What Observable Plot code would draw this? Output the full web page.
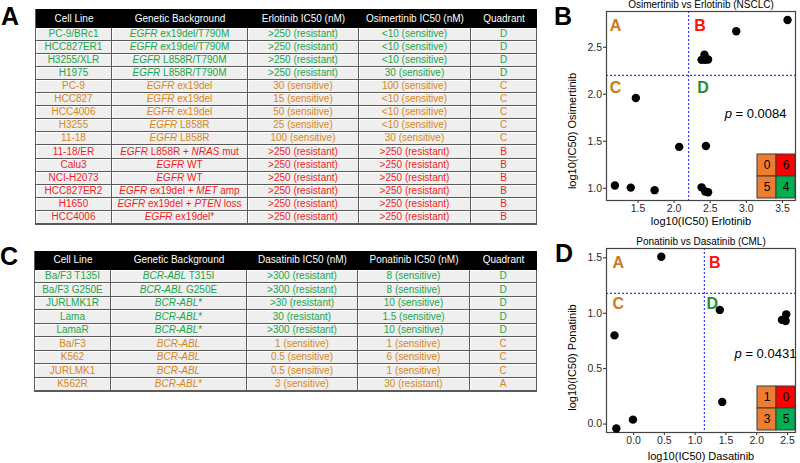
<!DOCTYPE html>
<html><head><meta charset="utf-8">
<script src="https://cdn.jsdelivr.net/npm/d3@7"></script>
<script src="https://cdn.jsdelivr.net/npm/@observablehq/plot@0.6"></script>
<style>
body{margin:0;background:#fff;font-family:"Liberation Sans",Arial,sans-serif;}
#root{position:relative;width:800px;height:463px;overflow:hidden;background:#fff;}
.panel{position:absolute;font-weight:bold;font-size:25px;line-height:1;color:#000;}
.cell{position:absolute;box-sizing:border-box;text-align:center;font-size:10px;white-space:nowrap;overflow:hidden;}
.hd{background:#000;color:#fff;}
.bd{background:#efefef;border-right:1px solid #5a5a5a;border-bottom:1px solid #5a5a5a;box-shadow:inset 1px 1px 0 #fff;}
.abs{position:absolute;}
</style></head><body><div id="root"></div>
<script>
// ---------- Table A (NSCLC) ----------
const headersA = ["Cell Line","Genetic Background","Erlotinib IC50 (nM)","Osimertinib IC50 (nM)","Quadrant"];
const cellLinesA = ["PC-9/BRc1","HCC827ER1","H3255/XLR","H1975","PC-9","HCC827","HCC4006","H3255","11-18","11-18/ER","Calu3","NCI-H2073","HCC827ER2","H1650","HCC4006"];
const backgroundsA = ["EGFR ex19del/T790M","EGFR ex19del/T790M","EGFR L858R/T790M","EGFR L858R/T790M","EGFR ex19del","EGFR ex19del","EGFR ex19del","EGFR L858R","EGFR L858R","EGFR L858R + NRAS mut","EGFR WT","EGFR WT","EGFR ex19del + MET amp","EGFR ex19del + PTEN loss","EGFR ex19del*"];
const erlotinibA = [">250 (resistant)",">250 (resistant)",">250 (resistant)",">250 (resistant)","30 (sensitive)","15 (sensitive)","50 (sensitive)","25 (sensitive)","100 (sensitive)",">250 (resistant)",">250 (resistant)",">250 (resistant)",">250 (resistant)",">250 (resistant)",">250 (resistant)"];
const osimertinibA = ["<10 (sensitive)","<10 (sensitive)","<10 (sensitive)","30 (sensitive)","100 (sensitive)","<10 (sensitive)","<10 (sensitive)","<10 (sensitive)","30 (sensitive)",">250 (resistant)",">250 (resistant)",">250 (resistant)",">250 (resistant)",">250 (resistant)",">250 (resistant)"];
const quadrantA = ["D","D","D","D","C","C","C","C","C","B","B","B","B","B","B"];

// ---------- Table C (CML) ----------
const headersC = ["Cell Line","Genetic Background","Dasatinib IC50 (nM)","Ponatinib IC50 (nM)","Quadrant"];
const cellLinesC = ["Ba/F3 T135I","Ba/F3 G250E","JURLMK1R","Lama","LamaR","Ba/F3","K562","JURLMK1","K562R"];
const backgroundsC = ["BCR-ABL T315I","BCR-ABL G250E","BCR-ABL*","BCR-ABL*","BCR-ABL*","BCR-ABL","BCR-ABL","BCR-ABL","BCR-ABL*"];
const dasatinibC = [">300 (resistant)",">300 (resistant)",">30 (resistant)","30 (resistant)",">300 (resistant)","1 (sensitive)","0.5 (sensitive)","0.5 (sensitive)","3 (sensitive)"];
const ponatinibC = ["8 (sensitive)","8 (sensitive)","10 (sensitive)","1.5 (sensitive)","10 (sensitive)","1 (sensitive)","6 (sensitive)","1 (sensitive)","30 (resistant)"];
const quadrantC = ["D","D","D","D","D","C","C","C","A"];

// ---------- Scatter B: log10(IC50) values (same row order as table A) ----------
const logErlotinib   = [2.38,2.43,2.47,2.44,1.47,1.18,1.73,1.40,2.07,3.57,2.86,2.38,2.42,2.47,2.43];
const logOsimertinib = [1.01,0.965,0.957,1.45,1.96,1.03,0.98,1.007,1.44,2.79,2.67,2.366,2.42,2.37,2.366];
// ---------- Scatter D: log10(IC50) values (same row order as table C) ----------
const logDasatinib = [2.41,2.47,1.40,1.44,2.48,-0.01,-0.31,-0.28,0.45];
const logPonatinib = [0.94,0.93,1.03,0.20,0.99,0.04,0.80,-0.04,1.51];

// quadrant counts for insets (A, B, C, D)
const quadrantNames = ["A","B","C","D"];
const countsB = [0,6,5,4];
const countsD = [1,0,3,5];
const pValueB = "0.0084";
const pValueD = "0.0431";

const textColor = {A:"#d9861a", B:"#f01e1e", C:"#d9861a", D:"#1aa64b"};
const quadLabelColor = {A:"#cc7a1a", B:"#ff1010", C:"#cc7a1a", D:"#1f8f2e"};
const insetColor = {A:"#ED7D31", B:"#FF0000", C:"#ED7D31", D:"#00B050"};

const root = document.getElementById("root");

function panelLetter(t, left, top){
  const d = document.createElement("div");
  d.className = "panel"; d.textContent = t;
  d.style.left = left+"px"; d.style.top = top+"px";
  root.appendChild(d);
}

function geneHTML(s){
  return s.replace(/(BCR-ABL|EGFR|NRAS|MET|PTEN)/g, "<i>$1</i>");
}

function buildTable({left, top, widths, headerH, rowH, headers, cols, quads}){
  const total = widths.reduce((a,b)=>a+b,0);
  const outer = document.createElement("div");
  outer.className = "abs";
  outer.style.cssText = `left:${left-1}px;top:${top}px;width:${total+1}px;height:${headerH+rowH*quads.length+1}px;box-sizing:border-box;border:1px solid #5a5a5a;`;
  root.appendChild(outer);
  let x = left;
  headers.forEach((h,j)=>{
    const c = document.createElement("div");
    c.className = "cell hd";
    c.style.cssText += `left:${x}px;top:${top}px;width:${widths[j]}px;height:${headerH}px;line-height:${headerH}px;`;
    c.textContent = h;
    root.appendChild(c);
    x += widths[j];
  });
  quads.forEach((q,i)=>{
    let x = left;
    const y = top + headerH + i*rowH;
    cols.forEach((col,j)=>{
      const c = document.createElement("div");
      c.className = "cell bd";
      const h = Math.round(y+rowH)-Math.round(y);
      c.style.cssText += `left:${x}px;top:${Math.round(y)}px;width:${widths[j]}px;height:${h}px;line-height:${h-1}px;color:${textColor[q]};`;
      if (j===1) c.innerHTML = geneHTML(col[i]); else c.textContent = col[i];
      root.appendChild(c);
      x += widths[j];
    });
  });
}

buildTable({left:36, top:9, widths:[76,136,111,112,66], headerH:19, rowH:13.05,
  headers:headersA, cols:[cellLinesA, backgroundsA, erlotinibA, osimertinibA, quadrantA], quads:quadrantA});
buildTable({left:35, top:251, widths:[76,136,111,112,67], headerH:18.5, rowH:13.5,
  headers:headersC, cols:[cellLinesC, backgroundsC, dasatinibC, ponatinibC, quadrantC], quads:quadrantC});

panelLetter("A", 1, 4);
panelLetter("C", 0, 244);
panelLetter("B", 554, 4);
panelLetter("D", 555, 241);

function scatter({xs, ys, xDomain, yDomain, xTicks, yTicks, xThresh, yThresh, title, xLabel, yLabel,
                  quadPos, pVal, pPos, width, height, mt, mb, ml, mr, yLabelDy, xLabelDy}){
  const data = xs.map((x,i)=>({x, y: ys[i]}));
  const quadData = quadrantNames.map((q,i)=>({q, x: quadPos[i][0], y: quadPos[i][1]}));
  const svg = Plot.plot({
    width, height, marginTop: mt, marginBottom: mb, marginLeft: ml, marginRight: mr,
    style: {fontFamily:"Liberation Sans, Arial, sans-serif", fontSize:"10.5px", background:"transparent", overflow:"visible", color:"#2a2a2a"},
    x: {domain: xDomain, ticks: xTicks, tickFormat: d3.format(".1f"), tickSize: 3, tickPadding: 1.5, label: null},
    y: {domain: yDomain, ticks: yTicks, tickFormat: d3.format(".1f"), tickSize: 3, tickPadding: 1.5, label: null},
    marks: [
      Plot.ruleX([xThresh], {stroke:"#3a3aff", strokeDasharray:"2,2", strokeWidth:1.2}),
      Plot.ruleY([yThresh], {stroke:"#3a3aff", strokeDasharray:"2,2", strokeWidth:1.2}),
      Plot.frame({stroke:"#444", strokeWidth:1.2}),
      Plot.dot(data, {x:"x", y:"y", r:4.2, fill:"#000"}),
      Plot.text(quadData, {x:"x", y:"y", text:"q", fill: d=>quadLabelColor[d.q], fontWeight:"bold", fontSize:16}),
      Plot.text([`p = ${pVal}`], {x: ()=>pPos[0], y: ()=>pPos[1], textAnchor:"start", fontSize:13, fill:"#000", className:"pval"}),
      Plot.text([title], {frameAnchor:"top", lineAnchor:"middle", textAnchor:"middle", dy:-7, fontSize:10, fill:"#000"}),
      Plot.text([xLabel], {frameAnchor:"bottom", lineAnchor:"middle", textAnchor:"middle", dy:xLabelDy, fontSize:11, fill:"#000"}),
      Plot.text([yLabel], {frameAnchor:"left", lineAnchor:"middle", textAnchor:"middle", dx:-34, dy:yLabelDy, rotate:-90, fontSize:11, fill:"#000"})
    ]
  });
  svg.querySelectorAll(".pval text").forEach(t=>{
    const s = t.textContent;
    t.textContent = "";
    const ns = "http://www.w3.org/2000/svg";
    const a = document.createElementNS(ns,"tspan"); a.setAttribute("font-style","italic"); a.textContent = "p";
    const b = document.createElementNS(ns,"tspan"); b.textContent = s.slice(1);
    t.appendChild(a); t.appendChild(b);
  });
  return svg;
}

function inset(counts){
  const data = quadrantNames.map((q,i)=>({q, n: counts[i], col: (q==="A"||q==="C")?"L":"R", row:(q==="A"||q==="B")?"T":"B", fill: insetColor[q]}));
  return Plot.plot({
    width: 38, height: 44, margin: 0,
    style: {fontFamily:"Liberation Sans, Arial, sans-serif", background:"transparent", overflow:"visible"},
    x: {domain:["L","R"], axis:null, padding:0},
    y: {domain:["T","B"], axis:null, padding:0},
    color: {type:"identity"},
    marks: [
      Plot.cell(data, {x:"col", y:"row", fill:"fill", stroke:"#3a3a3a", strokeWidth:1, inset:0}),
      Plot.text(data, {x:"col", y:"row", text:"n", fontSize:12, fill:"#000"})
    ]
  });
}

function place(el, left, top){
  el.style.position = "absolute";
  el.style.left = left+"px"; el.style.top = top+"px";
  root.appendChild(el);
}

const svgB = scatter({
  xs: logErlotinib, ys: logOsimertinib,
  xDomain:[1.064, 3.68], yDomain:[0.87, 2.88], xTicks:[1.5,2,2.5,3,3.5], yTicks:[1,1.5,2,2.5],
  xThresh:2.2, yThresh:2.2,
  title:"Osimertinib vs Erlotinib (NSCLC)", xLabel:"log10(IC50) Erlotinib", yLabel:"log10(IC50) Osimertinib",
  quadPos:[[1.19,2.73],[2.36,2.73],[1.19,2.07],[2.40,2.07]], pVal:pValueB, pPos:[2.70,1.79],
  width:260, height:230, mt:11, mb:30, ml:66, mr:5, yLabelDy:25, xLabelDy:21
});
place(svgB, 540, 0);

const svgD = scatter({
  xs: logDasatinib, ys: logPonatinib,
  xDomain:[-0.44, 2.63], yDomain:[-0.076, 1.584], xTicks:[0,0.5,1,1.5,2,2.5], yTicks:[0,0.5,1,1.5],
  xThresh:1.15, yThresh:1.18,
  title:"Ponatinib vs Dasatinib (CML)", xLabel:"log10(IC50) Dasatinib", yLabel:"log10(IC50) Ponatinib",
  quadPos:[[-0.25,1.455],[1.32,1.455],[-0.25,1.08],[1.28,1.08]], pVal:pValueD, pPos:[1.64,0.633],
  width:260, height:233, mt:18, mb:31, ml:66, mr:5, yLabelDy:17, xLabelDy:24
});
place(svgD, 540, 230);

place(inset(countsB), 757, 154);
place(inset(countsD), 757, 386);
</script>
</body></html>
